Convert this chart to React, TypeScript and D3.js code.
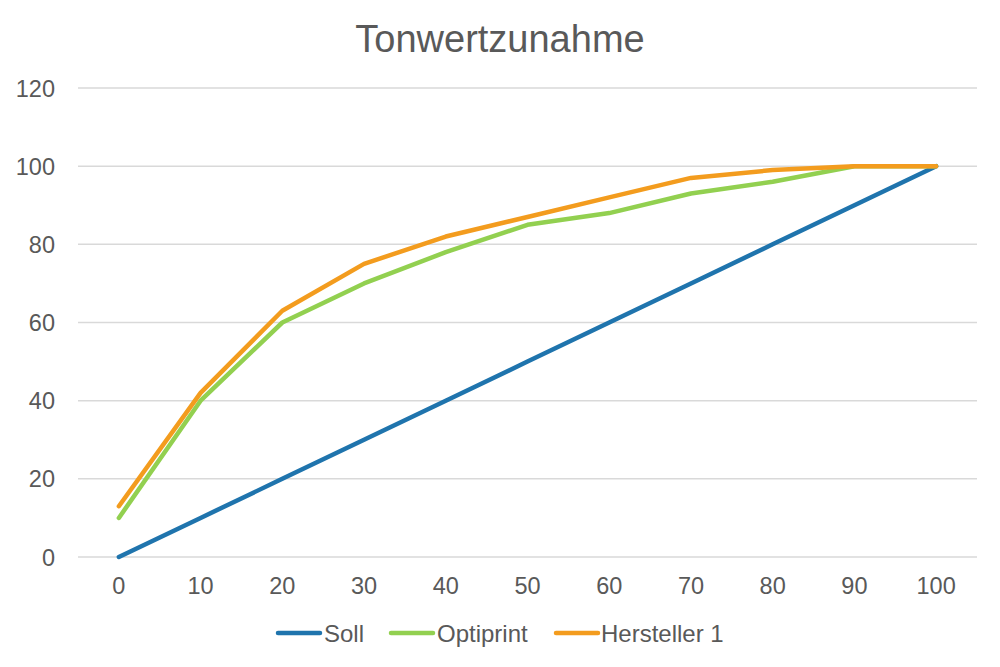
import React from "react";
import * as d3 from "d3";

const categories = ["0", "10", "20", "30", "40", "50", "60", "70", "80", "90", "100"];
const soll = [0, 10, 20, 30, 40, 50, 60, 70, 80, 90, 100];
const optiprint = [10, 40, 60, 70, 78, 85, 88, 93, 96, 100, 100];
const hersteller1 = [13, 42, 63, 75, 82, 87, 92, 97, 99, 100, 100];
const yTicks = [0, 20, 40, 60, 80, 100, 120];

const seriesList = [
  { name: "Soll", values: soll, color: "#1f74ad" },
  { name: "Optiprint", values: optiprint, color: "#92d050" },
  { name: "Hersteller 1", values: hersteller1, color: "#f39c1e" },
];

const legendPos = [
  { lx: 278, tx: 324 },
  { lx: 391, tx: 437 },
  { lx: 556, tx: 601 },
];

export default function App() {
  const W = 1000, H = 667;
  const left = 78, right = 977, top = 88, bottom = 557;
  const x = d3.scaleBand().domain(categories).range([left, right]);
  const y = d3.scaleLinear().domain([0, 120]).range([bottom, top]);
  const line = d3
    .line<number>()
    .x((_, i) => (x(categories[i]) as number) + x.bandwidth() / 2)
    .y((d) => y(d));
  const font = "'Liberation Sans', Arial, sans-serif";
  return (
    <svg width={W} height={H} style={{ position: "absolute", left: 0, top: 0, background: "#fff" }} fontFamily={font}>
      <rect width={W} height={H} fill="#fff" />
      <text x={500} y={52} textAnchor="middle" fontSize={38} fill="#595959">Tonwertzunahme</text>
      {yTicks.map((t) => (
        <g key={t}>
          <line x1={left} x2={right} y1={y(t)} y2={y(t)} stroke="#d9d9d9" strokeWidth={1.5} />
          <text x={55} y={y(t) + 8.5} textAnchor="end" fontSize={23.5} fill="#595959">{t}</text>
        </g>
      ))}
      {categories.map((c) => (
        <text key={c} x={(x(c) as number) + x.bandwidth() / 2} y={594} textAnchor="middle" fontSize={23.5} fill="#595959">{c}</text>
      ))}
      {seriesList.map((s) => (
        <path key={s.name} d={line(s.values) || ""} fill="none" stroke={s.color} strokeWidth={4.5} strokeLinejoin="round" strokeLinecap="round" />
      ))}
      {seriesList.map((s, i) => (
        <g key={s.name}>
          <line x1={legendPos[i].lx} x2={legendPos[i].lx + 42} y1={633} y2={633} stroke={s.color} strokeWidth={4.5} strokeLinecap="round" />
          <text x={legendPos[i].tx} y={642} fontSize={24} fill="#595959">{s.name}</text>
        </g>
      ))}
    </svg>
  );
}
